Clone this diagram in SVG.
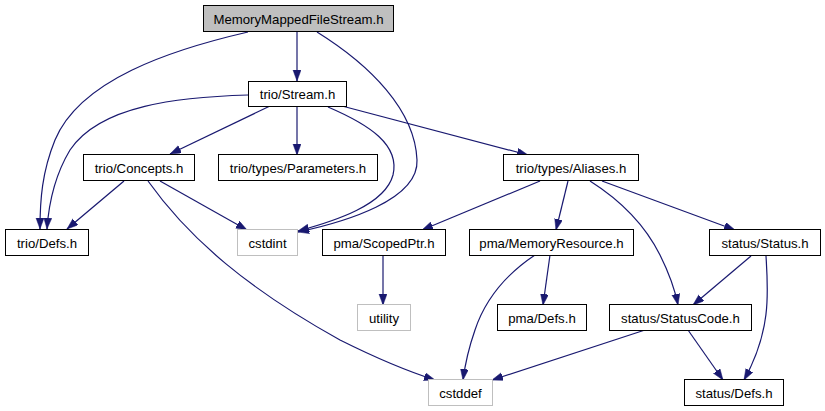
<svg xmlns="http://www.w3.org/2000/svg" width="825" height="411" viewBox="0 0 825 411">
<defs>
<marker id="ah" markerUnits="userSpaceOnUse" markerWidth="12" markerHeight="10" refX="11" refY="4" orient="auto">
<polygon points="0,0 11,4 0,8" fill="#191970" stroke="#191970" stroke-width="0.5"/>
</marker>
</defs>
<style>
.n rect{fill:#ffffff;stroke:#000000;stroke-width:1}
.n.g rect{stroke:#bfbfbf}
.n.root rect{fill:#bfbfbf}
.n text{font-family:"Liberation Sans",Arial,sans-serif;font-size:13.2px;fill:#000000;text-anchor:middle}
#edges path{fill:none;stroke:#191970;stroke-width:1.2;marker-end:url(#ah)}
</style>
<rect width="825" height="411" fill="#ffffff"/>
<g id="edges">
<path d="M297,31 L297,81"/>
<path d="M248,32 C170,50 80,80 55,140 C42,172 40,200 40,229"/>
<path d="M317,32 C370,65 415,110 417,160 C419,200 345,222 298,232"/>
<path d="M248,95 C180,97 100,105 70,150 C55,175 49,200 47,229"/>
<path d="M270,106 L170,154"/>
<path d="M297,106 L297,155"/>
<path d="M328,107 C370,125 400,145 393,175 C385,205 335,221 298,231"/>
<path d="M342,106 L528,155"/>
<path d="M124,181 L67,229"/>
<path d="M160,181 L247,230"/>
<path d="M148,181 C190,240 250,290 340,340 C380,360 410,372 435,380"/>
<path d="M540,181 L422,230"/>
<path d="M568,181 L556,230"/>
<path d="M590,181 C620,200 645,225 660,255 C670,275 675,290 678,305"/>
<path d="M602,181 L735,230"/>
<path d="M383,255 L383,305"/>
<path d="M550,255 L543,305"/>
<path d="M535,255 C505,275 485,300 475,330 C468,350 465,365 463,380"/>
<path d="M751,256 L693,305"/>
<path d="M766,256 C768,290 772,330 744,380"/>
<path d="M688,330 L723,380"/>
<path d="M645,330 L492,380"/>
</g>
<g id="n_mmfs" class="n root"><rect x="203.5" y="5.5" width="190" height="26"/><text x="298.5" y="23.5">MemoryMappedFileStream.h</text></g>
<g id="n_stream" class="n"><rect x="248.5" y="81.5" width="98" height="25"/><text x="297.5" y="99">trio/Stream.h</text></g>
<g id="n_concepts" class="n"><rect x="83.5" y="154.5" width="111" height="26"/><text x="139" y="172.5">trio/Concepts.h</text></g>
<g id="n_params" class="n"><rect x="218.5" y="154.5" width="159" height="26"/><text x="298" y="172.5">trio/types/Parameters.h</text></g>
<g id="n_aliases" class="n"><rect x="503.5" y="154.5" width="135" height="26"/><text x="571" y="172.5">trio/types/Aliases.h</text></g>
<g id="n_triodefs" class="n"><rect x="5.5" y="229.5" width="83" height="26"/><text x="47" y="247.5">trio/Defs.h</text></g>
<g id="n_cstdint" class="n g"><rect x="237.5" y="229.5" width="60" height="26"/><text x="267.5" y="247.5">cstdint</text></g>
<g id="n_scoped" class="n"><rect x="322.5" y="229.5" width="123" height="26"/><text x="384" y="247.5">pma/ScopedPtr.h</text></g>
<g id="n_memres" class="n"><rect x="469.5" y="229.5" width="164" height="26"/><text x="551.5" y="247.5">pma/MemoryResource.h</text></g>
<g id="n_status" class="n"><rect x="709.5" y="229.5" width="111" height="26"/><text x="765" y="247.5">status/Status.h</text></g>
<g id="n_utility" class="n g"><rect x="357.5" y="304.5" width="53" height="26"/><text x="384" y="322.5">utility</text></g>
<g id="n_pmadefs" class="n"><rect x="497.5" y="304.5" width="89" height="26"/><text x="542" y="322.5">pma/Defs.h</text></g>
<g id="n_statuscode" class="n"><rect x="609.5" y="304.5" width="142" height="26"/><text x="680.5" y="322.5">status/StatusCode.h</text></g>
<g id="n_cstddef" class="n g"><rect x="428.5" y="379.5" width="64" height="26"/><text x="460.5" y="397.5">cstddef</text></g>
<g id="n_statusdefs" class="n"><rect x="684.5" y="379.5" width="99" height="26"/><text x="734" y="397.5">status/Defs.h</text></g>
</svg>
